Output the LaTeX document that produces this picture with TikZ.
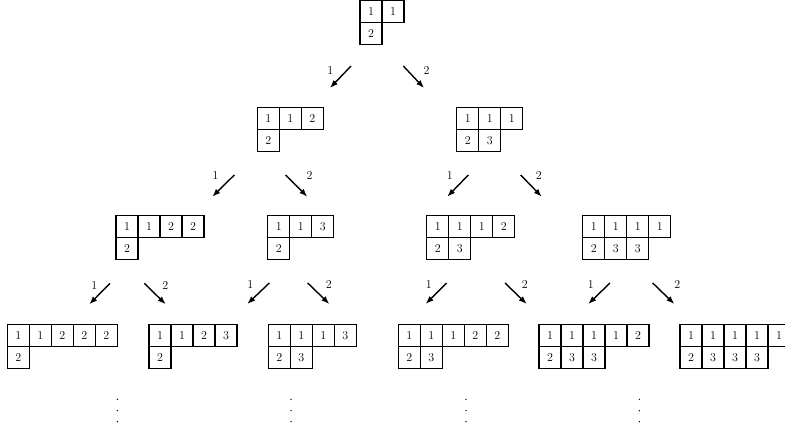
\documentclass[tikz,border=0pt]{standalone}
\usetikzlibrary{arrows.meta}
\tikzset{
  cell/.style={draw, line width=1.3pt, minimum width=22pt, minimum height=22pt,
    inner sep=0pt, outer sep=0pt, font=\fontsize{12}{14}\selectfont},
  lbl/.style={inner sep=0pt, font=\fontsize{12}{14}\selectfont},
  arr/.style={line width=1.4pt, -{Latex[length=8pt,width=6pt]}},
  dotmark/.style={fill, circle, inner sep=0pt, minimum size=1.5pt}
}
% name, x, y, first row, second row
\newcommand\youngtab[5]{%
  \foreach \v [count=\i from 0] in {#4}
    {\node[cell] (#1-a-\i) at ({#2+\i*22+11},{#3+11}) {\v};}
  \foreach \v [count=\i from 0] in {#5}
    {\node[cell] (#1-b-\i) at ({#2+\i*22+11},{#3+33}) {\v};}
}
% name, start x, start y, end x, end y, label x, label y, label
\newcommand\treearrow[8]{%
  \coordinate (#1s) at (#2,#3);
  \coordinate (#1e) at (#4,#5);
  \draw[arr] (#1s) -- (#1e);
  \node[lbl] (#1l) at (#6,#7) {#8};
}
\begin{document}
\begin{tikzpicture}[x=1pt,y=-1pt]
\useasboundingbox (0,0) rectangle (785,435);
\clip (0,-2) rectangle (785,435);
% level 0
\youngtab{t0}{360}{0.3}{1,1}{2}
% level 1
\youngtab{t1a}{257.3}{107.3}{1,1,2}{2}
\youngtab{t1b}{456.7}{107.3}{1,1,1}{2,3}
% level 2
\youngtab{t2a}{116}{215.7}{1,1,2,2}{2}
\youngtab{t2b}{267.7}{215.7}{1,1,3}{2}
\youngtab{t2c}{426.7}{215.7}{1,1,1,2}{2,3}
\youngtab{t2d}{582.7}{215.7}{1,1,1,1}{2,3,3}
% level 3
\youngtab{t3a}{7.3}{324.3}{1,1,2,2,2}{2}
\youngtab{t3b}{149}{324.3}{1,1,2,3}{2}
\youngtab{t3c}{268.3}{324.3}{1,1,1,3}{2,3}
\youngtab{t3d}{398.3}{324.3}{1,1,1,2,2}{2,3}
\youngtab{t3e}{539}{324.3}{1,1,1,1,2}{2,3,3}
\youngtab{t3f}{680}{324.3}{1,1,1,1,1}{2,3,3,3}
% arrows level 0 -> 1
\treearrow{p0a}{351}{66}{330}{88}{330.3}{70.8}{1}
\treearrow{p0b}{403.3}{66}{424}{88}{426.5}{70.5}{2}
% arrows level 1 -> 2
\treearrow{p1a}{234.3}{175}{212.3}{196.7}{215.5}{175.8}{1}
\treearrow{p1b}{285.7}{175}{307.3}{196.7}{309.5}{175.8}{2}
\treearrow{p1c}{468.3}{175}{447.3}{196.7}{449.7}{175.8}{1}
\treearrow{p1d}{520.7}{175}{541.7}{196.7}{538.8}{175.8}{2}
% arrows level 2 -> 3
\treearrow{p2a}{110}{283.3}{89.3}{304.3}{94.2}{285.2}{1}
\treearrow{p2b}{144.3}{283.3}{165.7}{304.3}{165.3}{285.2}{2}
\treearrow{p2c}{269.3}{283}{247.3}{304}{250.3}{285}{1}
\treearrow{p2d}{307.7}{283}{329.3}{304}{328.7}{285}{2}
\treearrow{p2e}{446.7}{283}{425.7}{304}{428.7}{285}{1}
\treearrow{p2f}{505}{283}{526.7}{304}{524.7}{285}{2}
\treearrow{p2g}{610}{283}{588.3}{304}{590.8}{285}{1}
\treearrow{p2h}{652.7}{283}{674.3}{304}{677.2}{285}{2}
% continuation dots
\foreach \x [count=\k] in {117.3,291,466,639.3}{
  \node[dotmark] (dA\k) at (\x,399.3) {};
  \node[dotmark] (dB\k) at (\x,410.7) {};
  \node[dotmark] (dC\k) at (\x,421.7) {};
}
\end{tikzpicture}
\end{document}
